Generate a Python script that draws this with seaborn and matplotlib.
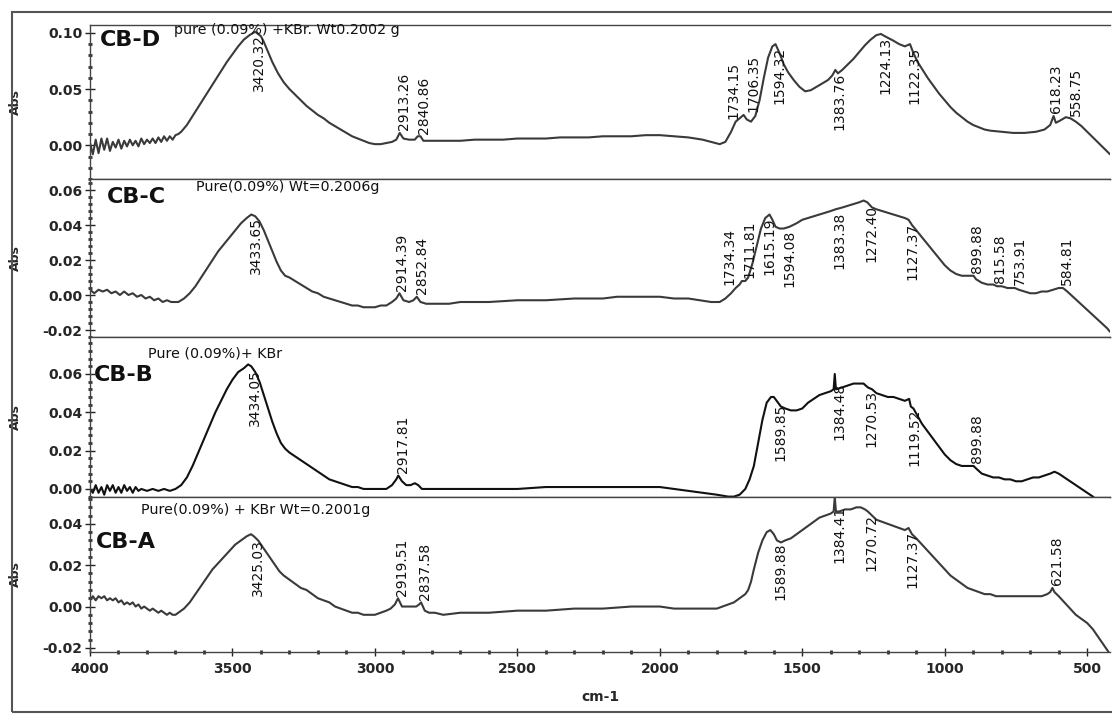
import numpy as np
import pandas as pd
import matplotlib
matplotlib.use("Agg")
import matplotlib.pyplot as plt
import seaborn as sns
from matplotlib.ticker import MultipleLocator, FixedLocator, FormatStrFormatter
from matplotlib.patches import Rectangle

# ---------------- data ----------------
d_wn = [4000,3990,3980,3970,3960,3950,3940,3930,3920,3910,3900,3890,3880,3870,3860,3850,3840,3830,3820,3810,3800,3790,3780,3770,3760,3750,3740,3730,3720,3710,3700,3690,
        3680,3660,3640,3620,3600,3580,3560,3540,3520,3500,3480,3460,3440,3420,3400,3390,3380,3360,3340,3320,3300,3280,3260,3240,3220,3200,3180,3160,3140,3120,3100,3080,3060,3040,3020,3000,2980,2960,2940,2925,2913,2900,2880,2860,2850,2840,2830,2800,2750,2700,2650,2600,2550,2500,2450,2400,2350,2300,2250,2200,2150,2100,2050,2000,1950,1900,1850,1820,1790,1770,1750,1734,1720,1706,1695,1680,1665,1650,1635,1620,1605,1594,1580,1565,1550,1530,1510,1490,1470,1450,1430,1410,1395,1384,1375,1360,1340,1320,1300,1280,1260,1240,1224,1210,1195,1180,1160,1140,1122,1110,1095,1080,1060,1040,1020,1000,980,960,940,920,900,880,860,840,800,760,720,680,650,630,618,610,595,575,559,540,520,500,480,460,440,420]
d_abs = [0.002,-0.008,0.005,-0.007,0.006,-0.004,0.006,-0.005,0.003,-0.002,0.005,-0.003,0.004,-0.001,0.005,0.000,0.004,-0.001,0.006,0.001,0.005,0.002,0.006,0.002,0.007,0.003,0.008,0.004,0.008,0.005,0.009,0.010,
         0.012,0.018,0.026,0.034,0.042,0.050,0.058,0.066,0.074,0.081,0.088,0.094,0.098,0.101,0.097,0.092,0.086,0.074,0.064,0.056,0.050,0.045,0.040,0.035,0.031,0.027,0.024,0.020,0.017,0.014,0.011,0.008,0.006,0.004,0.002,0.001,0.001,0.002,0.003,0.005,0.011,0.006,0.005,0.005,0.008,0.008,0.004,0.004,0.004,0.004,0.005,0.005,0.005,0.006,0.006,0.006,0.007,0.007,0.007,0.008,0.008,0.008,0.009,0.009,0.008,0.007,0.005,0.003,0.001,0.003,0.012,0.021,0.024,0.027,0.023,0.021,0.026,0.040,0.060,0.078,0.088,0.090,0.082,0.072,0.065,0.058,0.052,0.048,0.049,0.052,0.055,0.058,0.062,0.067,0.064,0.067,0.072,0.077,0.083,0.089,0.094,0.098,0.099,0.097,0.095,0.093,0.090,0.088,0.090,0.082,0.074,0.068,0.060,0.053,0.046,0.040,0.034,0.029,0.025,0.021,0.018,0.016,0.014,0.013,0.012,0.011,0.011,0.012,0.014,0.018,0.026,0.020,0.022,0.025,0.024,0.021,0.017,0.012,0.007,0.002,-0.003,-0.008]

c_wn = [4000,3985,3970,3955,3940,3925,3910,3895,3880,3865,3850,3835,3820,3805,3790,3775,3760,3745,3730,3715,3700,3690,
        3670,3650,3630,3610,3590,3570,3550,3530,3510,3490,3470,3450,3434,3420,3405,3390,3375,3360,3345,3330,3315,3300,3280,3260,3240,3220,3200,3180,3160,3140,3120,3100,3080,3060,3040,3020,3000,2980,2960,2940,2925,2914,2900,2880,2865,2853,2840,2820,2780,2740,2700,2600,2500,2400,2300,2200,2150,2100,2050,2000,1950,1900,1860,1820,1790,1770,1750,1734,1720,1712,1700,1690,1675,1660,1645,1630,1615,1605,1594,1580,1565,1545,1520,1500,1480,1460,1440,1420,1400,1383,1360,1340,1320,1300,1285,1272,1255,1240,1220,1200,1180,1160,1140,1127,1115,1100,1080,1060,1040,1020,1000,980,960,940,920,899,890,870,850,830,816,800,780,754,740,720,700,680,660,640,620,600,585,570,550,530,510,490,470,450,430,420]
c_abs = [0.003,0.001,0.003,0.002,0.003,0.001,0.002,0.000,0.002,0.000,0.001,-0.001,0.000,-0.002,-0.001,-0.003,-0.002,-0.004,-0.003,-0.004,-0.004,-0.004,
         -0.002,0.001,0.005,0.010,0.015,0.020,0.025,0.029,0.033,0.037,0.041,0.044,0.046,0.045,0.042,0.037,0.031,0.025,0.019,0.014,0.011,0.010,0.008,0.006,0.004,0.002,0.001,-0.001,-0.002,-0.003,-0.004,-0.005,-0.006,-0.006,-0.007,-0.007,-0.007,-0.006,-0.006,-0.004,-0.002,0.001,-0.003,-0.004,-0.003,-0.001,-0.004,-0.005,-0.005,-0.005,-0.004,-0.004,-0.003,-0.003,-0.002,-0.002,-0.001,-0.001,-0.001,-0.001,-0.002,-0.002,-0.003,-0.004,-0.004,-0.002,0.001,0.004,0.006,0.008,0.008,0.010,0.018,0.028,0.038,0.044,0.046,0.043,0.039,0.038,0.038,0.039,0.041,0.043,0.044,0.045,0.046,0.047,0.048,0.049,0.050,0.051,0.052,0.053,0.054,0.053,0.050,0.049,0.048,0.047,0.046,0.045,0.044,0.043,0.040,0.037,0.033,0.029,0.025,0.021,0.017,0.014,0.012,0.011,0.011,0.011,0.009,0.007,0.006,0.006,0.005,0.005,0.004,0.004,0.003,0.002,0.001,0.001,0.002,0.002,0.003,0.004,0.004,0.002,-0.001,-0.004,-0.007,-0.010,-0.013,-0.016,-0.019,-0.021]

b_wn = [4000,3990,3980,3970,3960,3950,3940,3930,3920,3910,3900,3890,3880,3870,3860,3850,3840,3830,3820,3800,3780,3760,3740,3720,3700,
        3680,3660,3640,3620,3600,3580,3560,3540,3520,3500,3480,3460,3445,3434,3420,3405,3390,3375,3360,3345,3330,3315,3300,3280,3260,3240,3220,3200,3180,3160,3140,3120,3100,3080,3060,3040,3000,2960,2940,2925,2918,2905,2890,2875,2860,2848,2835,2800,2700,2600,2500,2400,2300,2200,2100,2000,1950,1900,1850,1800,1760,1740,1720,1700,1685,1670,1655,1640,1625,1610,1600,1590,1575,1560,1540,1520,1500,1480,1460,1440,1420,1400,1390,1386,1382,1360,1340,1320,1300,1285,1270,1255,1240,1220,1200,1180,1160,1140,1125,1119,1110,1095,1080,1060,1040,1020,1000,980,960,940,920,899,885,870,850,830,810,790,770,750,730,710,690,670,650,630,615,600,580,560,540,520,500,480,460]
b_abs = [0.000,-0.002,0.002,-0.002,0.001,-0.003,0.002,-0.001,0.002,-0.002,0.001,-0.002,0.002,-0.001,0.001,-0.002,0.001,-0.001,0.000,-0.001,0.000,-0.001,0.000,-0.001,0.000,
         0.002,0.006,0.012,0.019,0.026,0.033,0.040,0.046,0.052,0.057,0.061,0.063,0.065,0.064,0.061,0.056,0.049,0.042,0.035,0.029,0.024,0.021,0.019,0.017,0.015,0.013,0.011,0.009,0.007,0.005,0.004,0.003,0.002,0.001,0.001,0.000,0.000,0.000,0.002,0.005,0.007,0.004,0.002,0.002,0.003,0.002,0.000,0.000,0.000,0.000,0.000,0.001,0.001,0.001,0.001,0.001,0.000,-0.001,-0.002,-0.003,-0.004,-0.004,-0.003,0.000,0.005,0.012,0.024,0.036,0.045,0.048,0.048,0.046,0.043,0.042,0.041,0.041,0.042,0.045,0.047,0.049,0.050,0.051,0.052,0.060,0.052,0.053,0.054,0.055,0.055,0.055,0.053,0.052,0.050,0.049,0.048,0.048,0.047,0.046,0.047,0.043,0.042,0.038,0.034,0.030,0.026,0.022,0.018,0.015,0.013,0.012,0.012,0.012,0.010,0.008,0.007,0.006,0.006,0.005,0.005,0.004,0.004,0.005,0.006,0.006,0.007,0.008,0.009,0.008,0.006,0.004,0.002,0.000,-0.002,-0.004,-0.007]

a_wn = [4000,3990,3980,3970,3960,3950,3940,3930,3920,3910,3900,3890,3880,3870,3860,3850,3840,3830,3820,3810,3800,3790,3780,3770,3760,3750,3740,3730,3720,3710,3700,3690,
        3670,3650,3630,3610,3590,3570,3550,3530,3510,3490,3470,3450,3435,3425,3410,3395,3380,3365,3350,3335,3320,3300,3280,3260,3240,3220,3200,3180,3160,3140,3120,3100,3080,3060,3040,3020,3000,2980,2960,2945,2930,2919,2905,2890,2870,2855,2845,2838,2825,2810,2790,2760,2700,2650,2600,2500,2400,2300,2200,2100,2050,2000,1950,1900,1850,1800,1780,1760,1740,1720,1700,1690,1680,1670,1655,1640,1625,1612,1600,1589,1575,1560,1540,1520,1500,1480,1460,1440,1420,1400,1390,1386,1382,1370,1350,1330,1310,1295,1280,1270,1255,1240,1220,1200,1180,1160,1140,1127,1115,1100,1080,1060,1040,1020,1000,980,960,940,920,900,880,860,840,820,800,780,760,740,720,700,680,660,640,630,622,615,600,580,560,540,520,500,480,460,440,420]
a_abs = [0.003,0.005,0.003,0.005,0.004,0.005,0.003,0.004,0.003,0.004,0.002,0.003,0.001,0.002,0.001,0.002,0.000,0.001,-0.001,0.000,-0.001,-0.002,-0.001,-0.002,-0.003,-0.002,-0.003,-0.004,-0.003,-0.004,-0.004,-0.003,
         -0.001,0.002,0.006,0.010,0.014,0.018,0.021,0.024,0.027,0.030,0.032,0.034,0.035,0.034,0.032,0.029,0.026,0.023,0.020,0.017,0.015,0.013,0.011,0.009,0.008,0.006,0.004,0.003,0.002,0.000,-0.001,-0.002,-0.003,-0.003,-0.004,-0.004,-0.004,-0.003,-0.002,-0.001,0.001,0.004,0.000,0.000,0.000,0.000,0.001,0.002,-0.002,-0.003,-0.003,-0.004,-0.003,-0.003,-0.003,-0.002,-0.002,-0.001,-0.001,0.000,0.000,0.000,-0.001,-0.001,-0.001,-0.001,0.000,0.001,0.002,0.004,0.006,0.008,0.012,0.018,0.026,0.032,0.036,0.037,0.035,0.032,0.031,0.032,0.033,0.035,0.037,0.039,0.041,0.043,0.044,0.045,0.046,0.053,0.046,0.046,0.047,0.047,0.048,0.048,0.047,0.046,0.044,0.042,0.041,0.040,0.039,0.038,0.037,0.038,0.035,0.033,0.030,0.027,0.024,0.021,0.018,0.015,0.013,0.011,0.009,0.008,0.007,0.006,0.006,0.005,0.005,0.005,0.005,0.005,0.005,0.005,0.005,0.005,0.006,0.007,0.009,0.007,0.005,0.002,-0.001,-0.004,-0.006,-0.008,-0.011,-0.015,-0.019,-0.023]

d_peaks = [3420.32, 2913.26, 2840.86, 1734.15, 1706.35, 1594.32, 1383.76, 1224.13, 1122.35, 618.23, 558.75]
c_peaks = [3433.65, 2914.39, 2852.84, 1734.34, 1711.81, 1615.19, 1594.08, 1383.38, 1272.40, 1127.37, 899.88, 815.58, 753.91, 584.81]
b_peaks = [3434.05, 2917.81, 1589.85, 1384.48, 1270.53, 1119.52, 899.88]
a_peaks = [3425.03, 2919.51, 2837.58, 1589.88, 1384.41, 1270.72, 1127.37, 621.58]

names = ["CB-D", "CB-C", "CB-B", "CB-A"]
notes = ["pure (0.09%) +KBr. Wt0.2002 g", "Pure(0.09%) Wt=0.2006g",
         "Pure (0.09%)+ KBr", "Pure(0.09%) + KBr Wt=0.2001g"]
y_ticks = [[0.00, 0.05, 0.10], [-0.02, 0.00, 0.02, 0.04, 0.06],
           [0.00, 0.02, 0.04, 0.06], [-0.02, 0.00, 0.02, 0.04]]
x_ticks = [4000, 3500, 3000, 2500, 2000, 1500, 1000, 500]

# ---------------- style ----------------
sns.set_theme(style="ticks")
plt.rcParams["font.family"] = ["DejaVu Sans"]

W, H = 1112, 717
fig = plt.figure(figsize=(W / 100, H / 100), dpi=100)
edges = [25, 179, 337, 497, 652]
gs = fig.add_gridspec(4, 1, left=90 / W, right=1110 / W, top=1 - 25 / H, bottom=1 - 652 / H,
                      hspace=0, height_ratios=[edges[i + 1] - edges[i] for i in range(4)])

ylims = [(-0.030, 0.107), (-0.024, 0.0663), (-0.0042, 0.0793), (-0.022, 0.053)]
series = [(d_wn, d_abs, d_peaks), (c_wn, c_abs, c_peaks), (b_wn, b_abs, b_peaks), (a_wn, a_abs, a_peaks)]
line_colors = ["#3a3a3a", "#3a3a3a", "#111111", "#3a3a3a"]
name_pos = [(0.010, 0.905), (0.017, 0.885), (0.004, 0.76), (0.006, 0.71)]
note_pos = [(0.082, 0.965), (0.104, 0.95), (0.057, 0.90), (0.050, 0.916)]
px_per_wn = 1020 / (4000 - 420)
min_gap = 20  # pixels between neighbouring peak labels

axes = []
for i, (wn, ab, peaks) in enumerate(series):
    ax = fig.add_subplot(gs[i])
    axes.append(ax)
    df = pd.DataFrame({"wn": wn, "abs": ab})
    sns.lineplot(data=df, x="wn", y="abs", ax=ax, color=line_colors[i], lw=1.5,
                 sort=False, estimator=None)
    ax.set_xlim(4000, 420)
    ax.set_ylim(*ylims[i])
    ax.set_xlabel("")
    ax.set_ylabel("Abs", fontsize=9, fontweight="bold", rotation=90)
    ax.yaxis.set_label_coords(-68 / 1020, 0.5)
    ax.yaxis.set_major_locator(FixedLocator(y_ticks[i]))
    ax.yaxis.set_major_formatter(FormatStrFormatter("%.2f"))
    step = 0.01 if i == 0 else 0.004
    ax.yaxis.set_minor_locator(MultipleLocator(step))
    ax.tick_params(axis="y", which="major", direction="inout", length=7, width=1,
                   labelsize=10, pad=2, color="#222")
    ax.tick_params(axis="y", which="minor", direction="inout", length=2.5, width=2, color="#333")
    for lab in ax.get_yticklabels():
        lab.set_fontweight("bold")
    for s in ["top", "bottom", "left"]:
        ax.spines[s].set_visible(True)
        ax.spines[s].set_color("#444")
        ax.spines[s].set_linewidth(1.0)
    ax.spines["right"].set_visible(False)

    ax.text(*name_pos[i], names[i], transform=ax.transAxes, fontsize=16, fontweight="bold",
            ha="left", va="center", color="#111")
    ax.text(*note_pos[i], notes[i], transform=ax.transAxes, fontsize=10.3,
            ha="left", va="center", color="#111")

    # label x-offsets: spread neighbours that would overlap (iterative relaxation)
    pxs = [(4000 - p) * px_per_wn for p in peaks]
    shifts = [0.0] * len(peaks)
    for _ in range(60):
        moved = False
        for k in range(1, len(peaks)):
            gap = (pxs[k] + shifts[k]) - (pxs[k - 1] + shifts[k - 1])
            if gap < min_gap - 0.1:
                need = min_gap - gap
                shifts[k - 1] -= need / 2
                shifts[k] += need / 2
                moved = True
        if not moved:
            break

    top = ylims[i][1]
    for p, sh in zip(peaks, shifts):
        yv = float(np.interp(p, wn[::-1], ab[::-1]))
        dx = 3 + sh * 0.72  # pixels -> points
        if yv > 0.5 * top:
            ax.annotate(f"{p:.2f}", (p, yv), xytext=(dx, -2), textcoords="offset points",
                        rotation=90, rotation_mode="anchor", ha="right", va="center",
                        fontsize=10, color="#111")
        else:
            ax.annotate(f"{p:.2f}", (p, yv), xytext=(dx, 2), textcoords="offset points",
                        rotation=90, rotation_mode="anchor", ha="left", va="center",
                        fontsize=10, color="#111")

    if i < 3:
        ax.tick_params(axis="x", which="both", bottom=False, labelbottom=False)
    else:
        ax.xaxis.set_major_locator(FixedLocator(x_ticks))
        ax.xaxis.set_minor_locator(MultipleLocator(100))
        ax.tick_params(axis="x", which="major", direction="inout", length=6, width=1,
                       labelsize=10, pad=4, color="#222")
        ax.tick_params(axis="x", which="minor", direction="inout", length=2.5, width=2, color="#333")
        for lab in ax.get_xticklabels():
            lab.set_fontweight("bold")
        ax.set_xlabel("cm-1", fontsize=10, fontweight="bold", labelpad=10)

# outer frame
fig.patches.append(Rectangle((12 / W, 5 / H), 1.05, 1 - 17 / H, transform=fig.transFigure,
                             fill=False, edgecolor="#555", lw=1.5))

fig.savefig("out.png", dpi=100, facecolor="white")
